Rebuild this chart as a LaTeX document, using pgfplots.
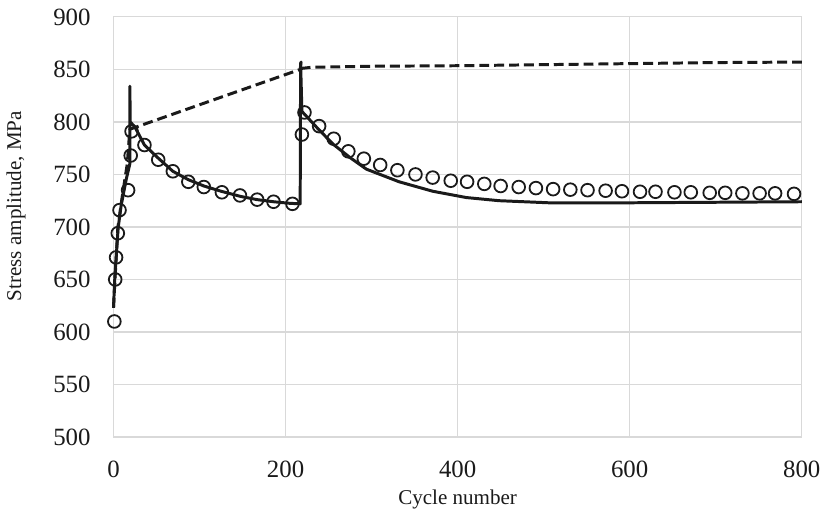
\documentclass[border=0pt]{standalone}
\usepackage{fontspec}
\setmainfont{Liberation Serif}
\usepackage{pgfplots}
\pgfplotsset{compat=1.18}
\definecolor{gridgray}{HTML}{D9D9D9}
\definecolor{ink}{HTML}{1A1A1A}

\begin{document}
\begin{tikzpicture}
\begin{axis}[
  scale only axis,
  width=346.5pt,height=211.5pt,
  at={(0,0)},anchor=south west,
  xmin=0,xmax=800,ymin=500,ymax=900,
  xtick={0,200,...,800},ytick={500,550,...,900},
  major tick length=0pt,
  grid=major,grid style={gridgray,line width=0.6pt},
  axis line style={gridgray,line width=0.6pt},
  /pgf/number format/assume math mode=true,
  tick label style={font=\fontsize{12.5}{14}\selectfont,text=ink},
  yticklabel style={xshift=-8pt},
  xticklabel style={yshift=-8.5pt},
  label style={font=\fontsize{10.6}{12}\selectfont,text=ink},
  xlabel={Cycle number},ylabel={Stress amplitude, MPa},
  xlabel style={at={(axis description cs:0.5,-0.149)},anchor=center},
  ylabel style={at={(axis description cs:-0.1414,0.5496)},anchor=center},
  clip=false
]
% model without ...
\addplot[ink,line width=1.5pt,line join=round,dash pattern=on 5pt off 2.5pt] coordinates {
  (0,623) (5,699) (10,728) (16,760) (19,793) (217,850) (218,857) (219,851)
  (230,852) (300,853) (400,853.5) (500,854.5) (600,855.5) (700,856.5) (800,857)
};
% model
\addplot[ink,line width=1.5pt,line join=round] coordinates {
  (0,623) (1.5,651) (5.4,699) (9,721) (15,746) (19,760) (19,834) (19.5,800)
  (25,795) (36,778) (50,767) (69,753) (87,745) (105,739) (125,734) (148,729)
  (167,726) (186,724) (205,722.5) (217,722) (217.5,856) (219,810) (236,795)
  (255,779) (275,766) (294,755) (332,743) (371,734) (410,728) (448,725)
  (506,723) (600,723) (700,723.5) (800,724)
};
% experiment
\addplot[only marks,mark=o,mark size=3.2pt,mark options={ink,line width=0.9pt}] coordinates {
  (1,610) (2,650) (3,671) (5,694) (7,716) (17,735) (20,768) (21,791)
  (36,778) (52,764) (69,753) (87,743) (105,738) (126,733) (147,730) (167,726)
  (186,724) (208,722) (219,788) (222,809) (239,796) (256,784) (273,772)
  (291,765) (310,759) (330,754) (351,750) (371,747) (392,744) (411,743)
  (431,741) (450,739) (471,738) (491,737) (511,736) (531,735.5) (551,735)
  (572,734.5) (591,734) (612,733.5) (630,733.5) (652,733) (671,733)
  (693,732.5) (711,732.5) (731,732) (751,732) (769,732) (791,731.5)
};
\end{axis}
\path (-56pt,-38.5pt) rectangle (357.5pt,220pt);
\end{tikzpicture}
\end{document}
